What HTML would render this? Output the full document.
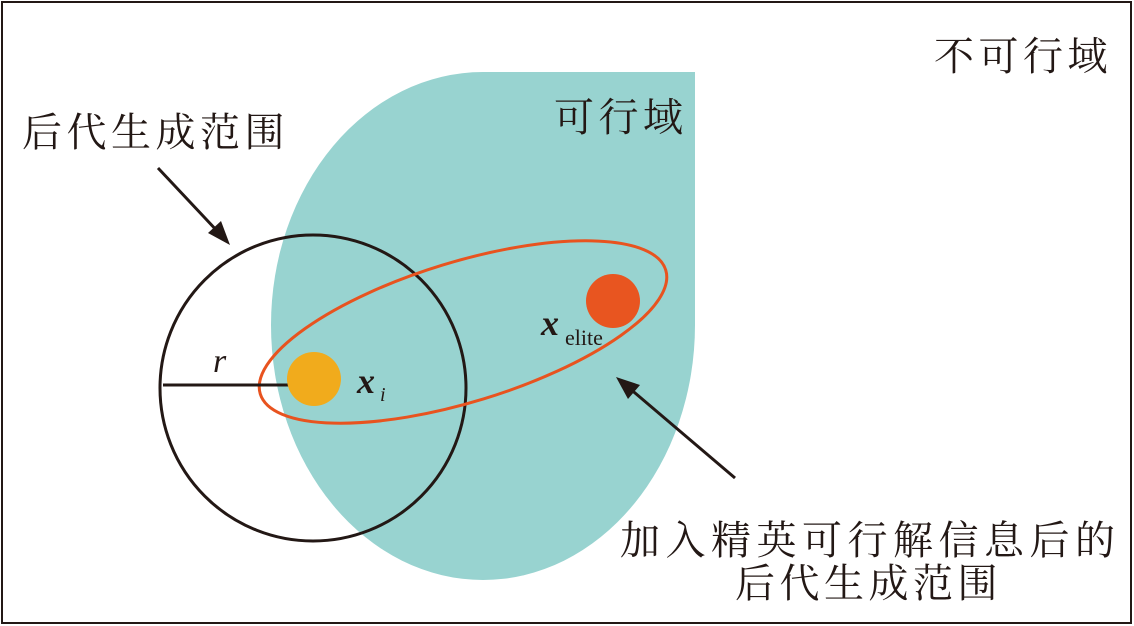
<!DOCTYPE html>
<html><head><meta charset="utf-8"><style>
html,body{margin:0;padding:0;background:#fff}
svg{display:block}
text{font-family:"Liberation Serif","Noto Serif CJK SC",serif;fill:#231815}
.cj{font-family:"Noto Serif CJK SC","Noto Sans CJK SC",serif;font-size:40px;letter-spacing:4.5px}
</style></head><body>
<svg width="1134" height="626" viewBox="0 0 1134 626" xmlns="http://www.w3.org/2000/svg">
<rect x="2" y="2" width="1129" height="621" fill="#fff" stroke="#231815" stroke-width="2"/>
<path d="M483 72 L695 72 L695 325 A212 255 0 0 1 271 325 A212 253 0 0 1 483 72 Z" fill="#98d3d0"/>
<circle cx="313" cy="388" r="153" fill="none" stroke="#231815" stroke-width="3"/>
<ellipse cx="463" cy="332" rx="212" ry="70" transform="rotate(-17 463 332)" fill="none" stroke="#e8531f" stroke-width="3"/>
<line x1="163" y1="385" x2="290" y2="385" stroke="#231815" stroke-width="3"/>
<circle cx="314" cy="379" r="27" fill="#f1ab1c"/>
<circle cx="613" cy="301" r="27" fill="#e85520"/>
<text x="213" y="372" font-size="34" font-style="italic">r</text>
<text x="357" y="393" font-size="36" font-style="italic" font-weight="bold">x</text>
<text x="380" y="401" font-size="20" font-style="italic">i</text>
<text x="541" y="335" font-size="36" font-style="italic" font-weight="bold">x</text>
<text x="565" y="345" font-size="22">elite</text>
<line x1="158" y1="168" x2="220" y2="234" stroke="#231815" stroke-width="3"/>
<polygon points="230,245 208,233 221,221" fill="#231815"/>
<line x1="735" y1="478" x2="628" y2="387" stroke="#231815" stroke-width="3"/>
<polygon points="616,377 640,385 628,399" fill="#231815"/>
<text class="cj" x="934" y="70">不可行域</text>
<text class="cj" x="554" y="131">可行域</text>
<text class="cj" x="22" y="146">后代生成范围</text>
<text class="cj" x="620" y="554" style="letter-spacing:5.5px">加入精英可行解信息后的</text>
<text class="cj" x="735" y="597">后代生成范围</text>
</svg>
</body></html>
